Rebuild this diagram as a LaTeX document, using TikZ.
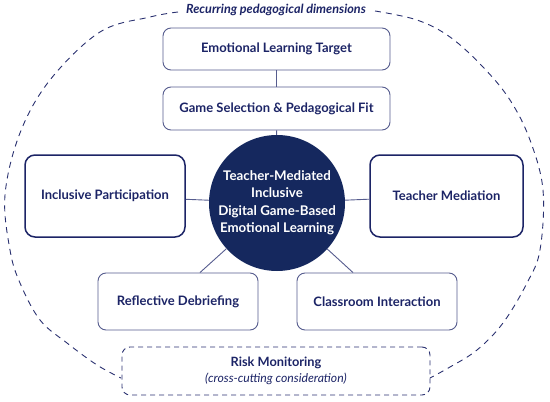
\documentclass[tikz,border=0pt]{standalone}
\usepackage{fontspec}
\setmainfont{Lato}
\definecolor{navy}{HTML}{1C2466}
\definecolor{navyfill}{HTML}{15285E}
\definecolor{thinline}{HTML}{565C8E}
\definecolor{dashcol}{HTML}{2A3170}
\tikzset{
  thinbox/.style={draw=thinline, line width=0.9pt, rounded corners=8pt, fill=white, inner sep=0pt, align=center, text=navy, font=\bfseries\fontsize{13}{15}\selectfont},
  thickbox/.style={draw=navy, line width=1.5pt, rounded corners=10pt, fill=white, inner sep=0pt, align=center, text=navy, font=\bfseries\fontsize{13}{15}\selectfont},
  hub/.style={circle, fill=navyfill, draw=none, inner sep=0pt, minimum size=136pt, align=center, text=white, font=\bfseries\fontsize{13.3}{17.5}\selectfont},
  riskbox/.style={draw=dashcol, line width=0.9pt, dash pattern=on 5pt off 4pt, rounded corners=8pt, inner sep=0pt, align=center, text=navy},
  link/.style={draw=thinline, line width=0.9pt},
  outer/.style={draw=dashcol, line width=0.9pt, dash pattern=on 6pt off 5pt}
}
\begin{document}
\begin{tikzpicture}[x=1pt, y=-1pt]
\useasboundingbox (0,0) rectangle (550,402);
% outer dashed boundary
\draw[outer] plot[smooth, tension=0.6] coordinates {(178,12) (150,17) (100,32) (50,80) (20,133) (5,195) (10,250) (20,283) (40,320) (67,343) (97,365) (121,378)};
\draw[outer] plot[smooth, tension=0.6] coordinates {(375,11) (417,20) (450,37) (483,67) (510,100) (530,140) (543,190) (540,250) (527,283) (503,323) (477,350) (450,367) (430,378)};
\node[text=navy, font=\itshape\bfseries\fontsize{12.6}{14}\selectfont] (title) at (276,10) {Recurring pedagogical dimensions};

\node[hub] (c) at (277,203) {Teacher-Mediated\\Inclusive\\Digital Game-Based\\Emotional Learning};

\node[thinbox, minimum width=227pt, minimum height=42pt] (elt) at (276.5,49) {Emotional Learning Target};
\node[thinbox, minimum width=227pt, minimum height=43pt] (gs) at (276.5,108.5) {Game Selection \& Pedagogical Fit};
\node[thickbox, minimum width=160pt, minimum height=82pt] (ip) at (105,196) {Inclusive Participation};
\node[thickbox, minimum width=153pt, minimum height=82pt] (tm) at (446.5,196) {Teacher Mediation};
\node[thinbox, minimum width=160pt, minimum height=57pt] (rd) at (178,301.5) {Reflective Debriefing};
\node[thinbox, minimum width=160pt, minimum height=57pt] (ci) at (377,301.5) {Classroom Interaction};
\node[riskbox, minimum width=308pt, minimum height=48pt] (rm) at (276,371) {};
\node[text=navy, font=\bfseries\fontsize{12.8}{14}\selectfont] (rmt) at (276,363) {Risk Monitoring};
\node[text=navy, font=\itshape\fontsize{12.2}{14}\selectfont] (rms) at (276,379) {(cross-cutting consideration)};

\draw[link] (elt) -- (gs);
\draw[link] (gs) -- (c);
\draw[link] (ip) -- (c);
\draw[link] (tm) -- (c);
\draw[link] ([xshift=22pt]rd.north) -- (c);
\draw[link] ([xshift=-24pt]ci.north) -- (c);
\end{tikzpicture}
\end{document}
